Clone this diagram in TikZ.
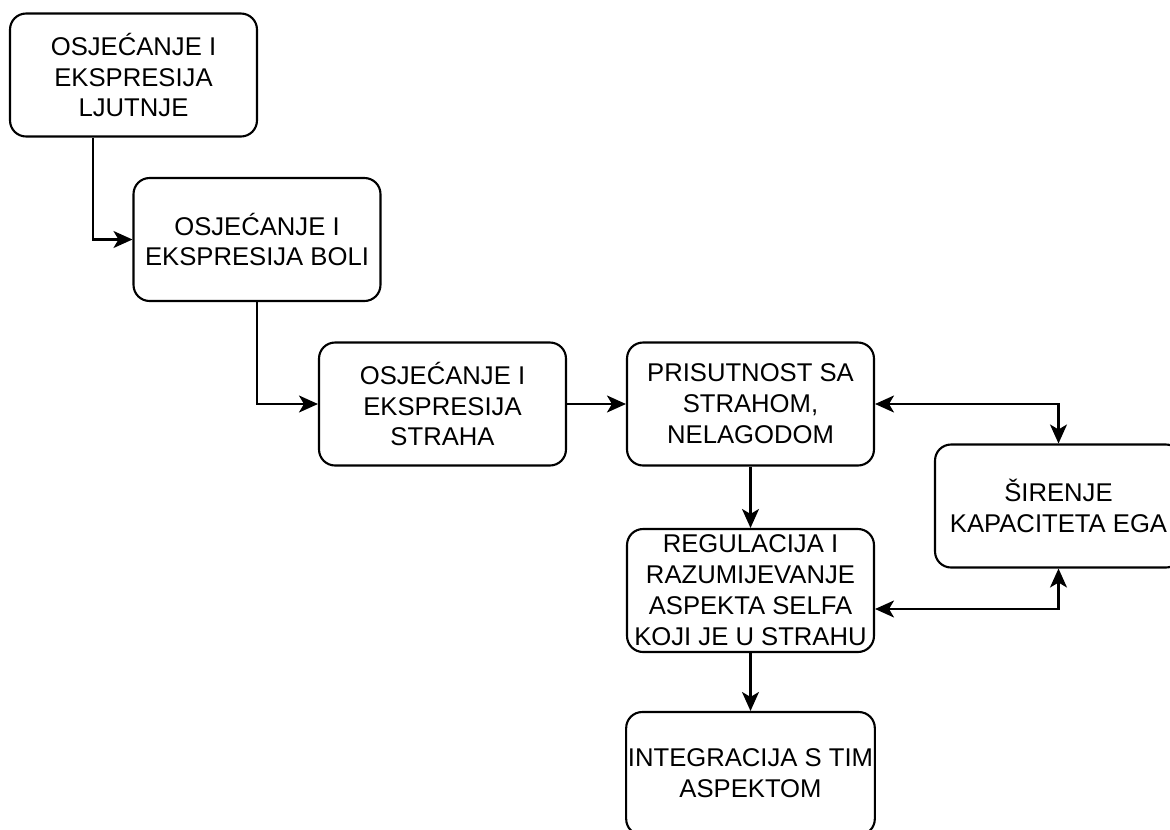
\documentclass[tikz,border=0pt]{standalone}
\usepackage{fontspec}
\setmainfont{Liberation Sans}
\usetikzlibrary{arrows.meta}

\tikzset{
  stepbox/.style={draw, line width=1.2pt, rounded corners=0.32cm, fill=white,
    minimum width=4.94cm, minimum height=2.46cm, inner sep=1pt, align=center,
    font=\fontsize{14.6pt}{17.6pt}\selectfont},
  link/.style={line width=1.2pt, -{Stealth[length=0.38cm, width=0.34cm, inset=0.1cm]}},
  twolink/.style={line width=1.2pt,
    {Stealth[length=0.38cm, width=0.34cm, inset=0.1cm]}-{Stealth[length=0.38cm, width=0.34cm, inset=0.1cm]}}
}

\begin{document}
\begin{tikzpicture}[x=0.02cm, y=-0.02cm]
    \useasboundingbox (0, 0) rectangle (1170, 829);
    \node[stepbox] (ljutnja)  at (133.5, 75)   {OSJEĆANJE I\\EKSPRESIJA\\LJUTNJE};
    \node[stepbox] (bol)      at (257, 239.5)  {OSJEĆANJE I\\EKSPRESIJA BOLI};
    \node[stepbox] (strah)    at (442.5, 404)  {OSJEĆANJE I\\EKSPRESIJA\\STRAHA};
    \node[stepbox] (prisutno) at (750.5, 404)  {PRISUTNOST SA\\STRAHOM,\\NELAGODOM};
    \node[stepbox] (regul)    at (750.5, 590.5) {REGULACIJA I\\RAZUMIJEVANJE\\ASPEKTA SELFA\\KOJI JE U STRAHU};
    \node[stepbox] (ego)      at (1058.5, 506) {ŠIRENJE\\KAPACITETA EGA};
    \node[stepbox] (integ)    at (750.5, 773.5) {INTEGRACIJA S TIM\\ASPEKTOM};
    \draw[link] ([xshift=-0.81cm]ljutnja.south) |- (bol.west);
    \draw[link] (bol.south) |- (strah.west);
    \draw[link] (strah.east) -- (prisutno.west);
    \draw[link] (prisutno.south) -- (regul.north);
    \draw[twolink] (prisutno.east) -| (ego.north);
    \draw[twolink] ([yshift=-0.37cm]regul.east) -| (ego.south);
    \draw[link] (regul.south) -- (integ.north);
  \end{tikzpicture}
\end{document}
